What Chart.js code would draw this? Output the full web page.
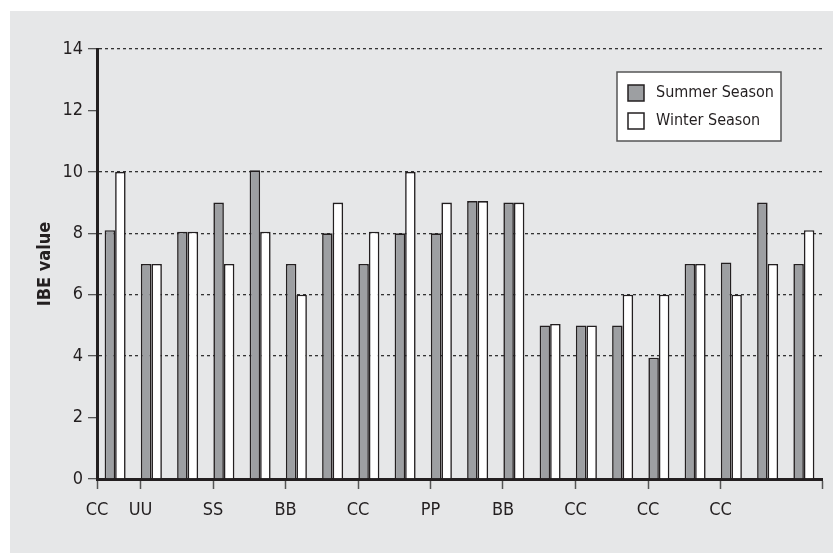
<!DOCTYPE html>
<html>
<head>
<meta charset="utf-8">
<script src="https://cdn.jsdelivr.net/npm/chart.js@4.4.1/dist/chart.umd.min.js"></script>
<style>
  html, body { margin: 0; padding: 0; background: #ffffff; }
  #wrap { position: absolute; left: 10px; top: 11px; width: 823px; height: 542px; background: #e6e7e8; }
</style>
</head>
<body>
<div id="wrap"><canvas id="ibeChart"></canvas></div>
<script>
// values
const groups = ['1', '2', '3', '4', '5', '6', '7', '8', '9', '10',
                '11', '12', '13', '14', '15', '16', '17', '18', '19', '20'];
const summer = [8.1, 7, 8.05, 9, 10.05, 7, 8, 7, 8, 8, 9.05, 9, 5, 5, 5, 3.95, 7, 7.05, 9, 7];
const winter = [10, 7, 8.05, 7, 8.05, 6, 9, 8.05, 10, 9, 9.05, 9, 5.05, 5, 6, 6, 7, 6, 7, 8.1];

// x-axis tick marks sit between groups, not under them
const xTickPos = [0, 1.2, 3.2, 5.2, 7.2, 9.2, 11.2, 13.2, 15.2, 17.2, 20];
const xTickLabels = ['CC', 'UU', 'SS', 'BB', 'CC', 'PP', 'BB', 'CC', 'CC', 'CC', ''];
const yTicks = [0, 2, 4, 6, 8, 10, 12, 14];
const yGridShown = [4, 6, 8, 10, 14];

const FONT = '"DejaVu Sans Condensed", "Liberation Sans", sans-serif';
const INK = '#231f20';

// legend drawn as a boxed panel inside the plot
const boxLegend = {
    id: 'boxLegend',
    afterDraw(chart) {
        const ctx = chart.ctx;
        ctx.save();
        ctx.fillStyle = '#ffffff';
        ctx.fillRect(607, 61, 164, 69);
        ctx.strokeStyle = '#555555';
        ctx.lineWidth = 1.5;
        ctx.strokeRect(607, 61, 164, 69);
        ctx.font = '16px ' + FONT;
        ctx.textBaseline = 'middle';
        chart.data.datasets.forEach((ds, i) => {
            const y = 74 + i * 28;
            ctx.fillStyle = ds.backgroundColor;
            ctx.fillRect(618, y, 16, 16);
            ctx.strokeStyle = INK;
            ctx.lineWidth = 1.5;
            ctx.strokeRect(618, y, 16, 16);
            ctx.fillStyle = INK;
            ctx.fillText(ds.label, 646, y + 8);
        });
        ctx.restore();
    }
};

new Chart(document.getElementById('ibeChart'), {
    type: 'bar',
    data: {
        labels: groups,
        datasets: [{
            label: 'Summer Season',
            data: summer,
            backgroundColor: '#9d9fa2',
            borderColor: INK,
            borderWidth: 1.6,
            categoryPercentage: 0.58,
            barPercentage: 1.0
        }, {
            label: 'Winter Season',
            data: winter,
            backgroundColor: '#ffffff',
            borderColor: INK,
            borderWidth: 1.6,
            categoryPercentage: 0.58,
            barPercentage: 1.0
        }]
    },
    options: {
        responsive: true,
        maintainAspectRatio: false,
        animation: false,
        layout: { padding: { left: 0, top: 38, right: 11, bottom: 0 } },
        plugins: {
            legend: { display: false },
            tooltip: { enabled: false }
        },
        scales: {
            x: { display: false },
            x2: {
                type: 'linear',
                position: 'bottom',
                min: 0,
                max: 20,
                offset: false,
                afterBuildTicks: axis => { axis.ticks = xTickPos.map(v => ({ value: v })); },
                afterFit: axis => { axis.height = 74; },
                ticks: {
                    autoSkip: false,
                    maxRotation: 0,
                    padding: 11,
                    color: INK,
                    font: { family: FONT, size: 18 },
                    callback: (v, i) => xTickLabels[i]
                },
                grid: {
                    offset: false,
                    drawOnChartArea: false,
                    tickLength: 10,
                    tickWidth: 1.5,
                    tickColor: '#555555'
                },
                border: { display: true, color: INK, width: 3 }
            },
            y: {
                min: 0,
                max: 14,
                afterBuildTicks: axis => { axis.ticks = yTicks.map(v => ({ value: v })); },
                afterFit: axis => { axis.width = 87; },
                ticks: {
                    padding: 5,
                    color: INK,
                    font: { family: FONT, size: 18 }
                },
                grid: {
                    color: c => yGridShown.includes(c.tick.value) ? '#333333' : 'rgba(0,0,0,0)',
                    lineWidth: 1.3,
                    tickLength: 9,
                    tickWidth: 1.3,
                    tickColor: '#555555',
                    tickBorderDash: []
                },
                border: { display: true, color: INK, width: 3, dash: [3, 3] },
                title: {
                    display: true,
                    text: 'IBE value',
                    color: INK,
                    font: { family: FONT, size: 18, weight: 'bold' },
                    padding: { top: 25, bottom: 0 }
                }
            }
        }
    },
    plugins: [boxLegend]
});
</script>
</body>
</html>
